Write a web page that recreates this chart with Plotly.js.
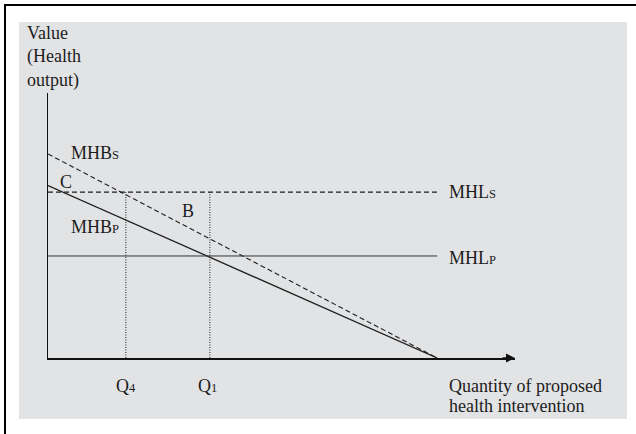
<!DOCTYPE html>
<html>
<head>
<meta charset="utf-8">
<script src="https://cdn.plot.ly/plotly-3.0.1.min.js"></script>
<style>
html,body{margin:0;padding:0;background:#fff;overflow:hidden;}
#wrap{position:relative;width:636px;height:434px;overflow:hidden;}
#chart{position:absolute;left:0;top:0;width:636px;height:434px;}
#frame{position:absolute;left:4px;top:4px;width:640px;height:440px;border-left:2.5px solid #000;border-top:2.5px solid #000;pointer-events:none;}
</style>
</head>
<body>
<div id="wrap"><div id="chart"></div><div id="frame"></div></div>
<script>
// ---- data ----
var xRange = [0, 12];          // quantity axis
var yRange = [0, 10];          // value axis
var qEnd = 10;                 // where the benefit curves reach zero
var mhbS = [7.70, 0];          // MHB_S (dashed) values at x=0 and x=qEnd
var mhbP = [6.51, 0];          // MHB_P (solid) values at x=0 and x=qEnd
var mhlS = 6.26;               // MHL_S (dashed horizontal)
var mhlP = 3.85;               // MHL_P (solid horizontal)
var q4 = 2.0;                  // Q4
var q1 = 4.16;                 // Q1
var labels = {
  yTitle: 'Value<br>(Health<br>output)',
  xTitle1: 'Quantity of proposed',
  xTitle2: 'health intervention',
  mhbS: 'MHB<span style="font-size:12.5px">S</span>',
  mhbP: 'MHB<span style="font-size:12.5px">P</span>',
  mhlS: 'MHL<span style="font-size:12.5px">S</span>',
  mhlP: 'MHL<span style="font-size:12.5px">P</span>',
  q4: 'Q<span style="font-size:12.5px">4</span>',
  q1: 'Q<span style="font-size:12.5px">1</span>',
  C: 'C',
  B: 'B'
};

// ---- layout geometry ----
var W = 636, H = 434;
var ML = 48, MR = 121, MT = 93, MB = 76;
var PW = W - ML - MR, PH = H - MT - MB;
function pxX(p){ return (p - ML) / PW; }
function pxY(p){ return (H - MB - p) / PH; }

var FONT = 'Liberation Serif, Times New Roman, serif';
var FS = 18;
var TXT = '#1c1c1c';
var LINE = '#1e1e1e';

var traces = [
  {x: [0, qEnd], y: mhbS, mode: 'lines', line: {color: LINE, width: 1.1, dash: '5px,3px'}, hoverinfo: 'skip'},
  {x: [0, qEnd], y: mhbP, mode: 'lines', line: {color: LINE, width: 1.3}, hoverinfo: 'skip'},
  {x: [0, qEnd], y: [mhlS, mhlS], mode: 'lines', line: {color: LINE, width: 1.1, dash: '5px,3px'}, hoverinfo: 'skip'},
  {x: [0, qEnd], y: [mhlP, mhlP], mode: 'lines', line: {color: '#333', width: 1}, hoverinfo: 'skip'},
  {x: [q4, q4], y: [0, mhlS], mode: 'lines', line: {color: LINE, width: 1, dash: '1px,1.5px'}, hoverinfo: 'skip'},
  {x: [q1, q1], y: [0, mhlS], mode: 'lines', line: {color: LINE, width: 1, dash: '1px,1.5px'}, hoverinfo: 'skip'}
];

function ann(text, x, y, xa, ya, xref, yref){
  return {text: text, x: x, y: y, xref: xref || 'x', yref: yref || 'y', xanchor: xa, yanchor: ya,
          showarrow: false, align: 'left', font: {family: FONT, size: FS, color: TXT}};
}

var annotations = [
  ann(labels.yTitle, pxX(25), pxY(57), 'left', 'middle', 'paper', 'paper'),
  ann(labels.mhbS, 0.54, 7.74, 'left', 'middle'),
  ann(labels.C, 0.26, 6.64, 'left', 'middle'),
  ann(labels.mhbP, 0.54, 4.94, 'left', 'middle'),
  ann(labels.B, 3.61, 5.53, 'center', 'middle'),
  ann(labels.mhlS, 10.24, mhlS, 'left', 'middle'),
  ann(labels.mhlP, 10.24, mhlP - 0.08, 'left', 'middle'),
  ann(labels.q4, q4, pxY(386), 'center', 'middle', 'x', 'paper'),
  ann(labels.q1, q1 - 0.05, pxY(386), 'center', 'middle', 'x', 'paper'),
  ann(labels.xTitle1, 10.24, pxY(386), 'left', 'middle', 'x', 'paper'),
  ann(labels.xTitle2, 10.24, pxY(406), 'left', 'middle', 'x', 'paper'),
  {text: '', x: xRange[1], y: 0, xref: 'x', yref: 'y', ax: -14, ay: 0,
   showarrow: true, arrowhead: 2, arrowsize: 1.2, arrowwidth: 1.5, arrowcolor: '#111'}
];

var shapes = [
  {type: 'rect', xref: 'paper', yref: 'paper', x0: pxX(19), x1: pxX(627), y0: pxY(419), y1: pxY(22),
   fillcolor: '#e2e3e5', line: {width: 0}, layer: 'below'}
];

var axisCommon = {showgrid: false, zeroline: false, showticklabels: false, ticks: '',
                  showline: true, linecolor: '#111', linewidth: 1.5, fixedrange: true};

var layout = {
  width: W, height: H,
  margin: {l: ML, r: MR, t: MT, b: MB, pad: 0},
  paper_bgcolor: '#ffffff',
  plot_bgcolor: 'rgba(0,0,0,0)',
  showlegend: false,
  xaxis: Object.assign({range: xRange}, axisCommon),
  yaxis: Object.assign({range: yRange}, axisCommon),
  annotations: annotations,
  shapes: shapes
};

Plotly.newPlot('chart', traces, layout, {displayModeBar: false, staticPlot: true});
</script>
</body>
</html>
